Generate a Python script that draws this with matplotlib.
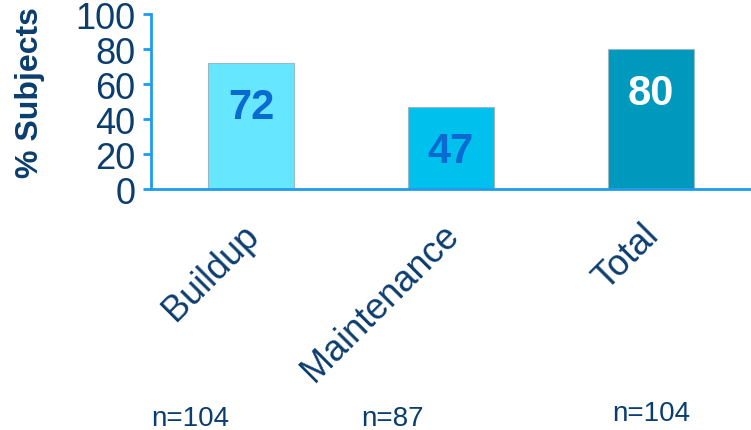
import matplotlib.pyplot as plt
import matplotlib.transforms as mtransforms

categories = ['Buildup', 'Maintenance', 'Total']
percent_subjects = [72, 47, 80]
n_labels = ['n=104', 'n=87', 'n=104']
yticks = [0, 20, 40, 60, 80, 100]

bar_colors = ['#66e6ff', '#00c0ee', '#0099be']
value_colors = ['#0a6ad0', '#0a6ad0', 'white']
navy = '#0b3d6e'
axis_blue = '#1e9cf0'

plt.rcParams['font.family'] = ['Liberation Sans', 'DejaVu Sans']

fig = plt.figure(figsize=(7.51, 4.31), dpi=100)
ax = fig.add_axes([0.201, 0.559, 0.799, 0.406])

x = range(len(categories))
ax.bar(x, percent_subjects, width=0.43, color=bar_colors,
       edgecolor='#9ab8c4', linewidth=0.8, zorder=2)

# values sit a fixed distance below the bar top
for i, v in enumerate(percent_subjects):
    ax.text(i, v - 25, str(v), ha='center', va='center', fontsize=30,
            fontweight='bold', color=value_colors[i], zorder=3)

ax.set_xlim(-0.5, 2.5)
ax.set_ylim(0, 100)
ax.set_yticks(yticks)
ax.set_yticklabels([str(t) for t in yticks], fontsize=26, color=navy)
ax.set_xticks(list(x))
ax.set_xticklabels(categories, rotation=45, ha='right', va='top',
                   rotation_mode='anchor', fontsize=26, color=navy)
ax.tick_params(axis='x', length=0, pad=20)
ax.tick_params(axis='y', length=6, width=2, color=axis_blue, pad=5)

# nudge the slanted labels a little to the left
shift = mtransforms.ScaledTranslation(-7 / 72, 0, fig.dpi_scale_trans)
for lab in ax.get_xticklabels():
    lab.set_transform(lab.get_transform() + shift)

ax.set_ylabel('% Subjects', fontsize=23, fontweight='bold', color=navy)
ax.yaxis.set_label_coords(-0.177, 0.56)

for side in ['top', 'right']:
    ax.spines[side].set_visible(False)
for side in ['left', 'bottom']:
    ax.spines[side].set_color(axis_blue)
    ax.spines[side].set_linewidth(2)

n_x = [0.254, 0.523, 0.867]
n_y = [0.028, 0.028, 0.04]
for xi, yi, lab in zip(n_x, n_y, n_labels):
    fig.text(xi, yi, lab, ha='center', va='center', fontsize=20, color=navy)

fig.savefig('out.png', dpi=100)
